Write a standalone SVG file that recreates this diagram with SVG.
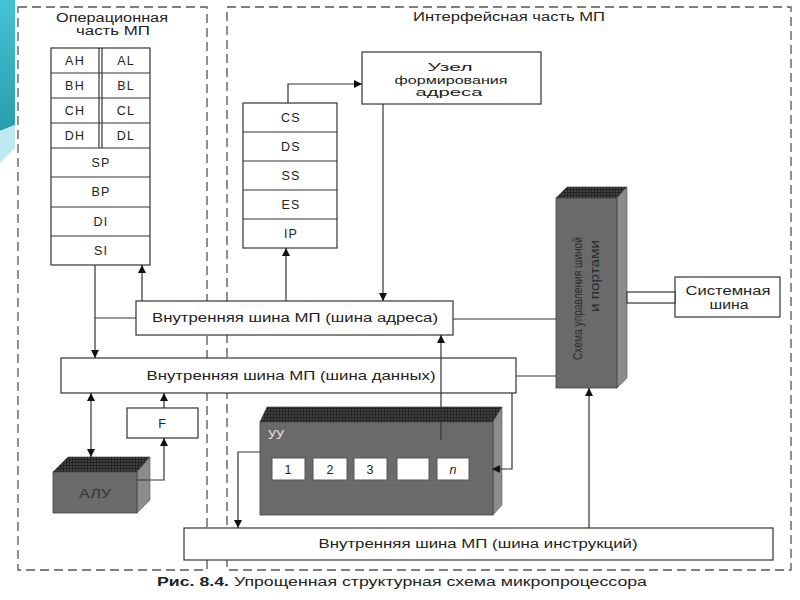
<svg xmlns="http://www.w3.org/2000/svg" width="800" height="600" viewBox="0 0 800 600">
<defs>
<linearGradient id="teal" x1="0" y1="0" x2="0" y2="1"><stop offset="0" stop-color="#45c3d2"/><stop offset="1" stop-color="#2a9cae"/></linearGradient>
<marker id="arr" viewBox="0 0 10 10" refX="10" refY="5" markerWidth="8" markerHeight="8" markerUnits="userSpaceOnUse" orient="auto-start-reverse"><path d="M0,0 L10,5 L0,10 z" fill="#111"/></marker>
<pattern id="hatch" width="3" height="3" patternUnits="userSpaceOnUse"><rect width="3" height="3" fill="#404040"/><path d="M0,0.5H3M0.5,0V3" stroke="#1e1e1e" stroke-width="0.8"/></pattern>
</defs>
<style>
.box{fill:#fff;stroke:#333;stroke-width:1.2}
.ln{fill:none;stroke:#333;stroke-width:1.2}
.arr{marker-end:url(#arr)}
.dash{fill:none;stroke:#555;stroke-width:1.3;stroke-dasharray:9 5}
.front{fill:#6a6a6a;stroke:#444;stroke-width:0.8}
.side{fill:#8c8c8c;stroke:#555;stroke-width:0.6}
.top{fill:url(#hatch);stroke:#333;stroke-width:0.6}
.slot{fill:#fff;stroke:#555;stroke-width:1}
text{font-family:"Liberation Sans",Arial,sans-serif;font-size:12.5px;fill:#222}
.c{text-anchor:middle}
.ls{letter-spacing:1.2px}
.sm{font-size:10.5px}
</style>
<rect width="800" height="600" fill="#fff"/>
<!-- decoration -->
<polygon points="0,0 15,0 15,125 0,131" fill="url(#teal)"/>
<polygon points="0,131 15,125 15,148 0,163" fill="#bfe9f0"/>
<!-- regions -->
<g id="operational-part">
<rect class="dash" x="18" y="7" width="189" height="563"/>
<text class="c" x="112" y="22" textLength="112" lengthAdjust="spacingAndGlyphs">Операционная</text>
<text class="c" x="113" y="35" textLength="74" lengthAdjust="spacingAndGlyphs">часть МП</text>
</g>
<g id="interface-part">
<rect class="dash" x="227" y="7" width="564" height="563"/>
<text class="c" x="509" y="21" textLength="192" lengthAdjust="spacingAndGlyphs">Интерфейсная часть МП</text>
</g>
<!-- general registers -->
<g id="general-registers">
<rect class="box" x="51" y="48" width="99" height="217"/>
<line class="ln" x1="99" y1="48" x2="99" y2="148"/>
<line class="ln" x1="102" y1="48" x2="102" y2="148"/>
<line class="ln" x1="51" y1="73" x2="150" y2="73"/>
<line class="ln" x1="51" y1="98" x2="150" y2="98"/>
<line class="ln" x1="51" y1="123" x2="150" y2="123"/>
<line class="ln" x1="51" y1="148" x2="150" y2="148"/>
<line class="ln" x1="51" y1="177" x2="150" y2="177"/>
<line class="ln" x1="51" y1="207" x2="150" y2="207"/>
<line class="ln" x1="51" y1="236" x2="150" y2="236"/>
<text class="c ls" x="75" y="65">AH</text><text class="c ls" x="126" y="65">AL</text>
<text class="c ls" x="75" y="90">BH</text><text class="c ls" x="126" y="90">BL</text>
<text class="c ls" x="75" y="115">CH</text><text class="c ls" x="126" y="115">CL</text>
<text class="c ls" x="75" y="140">DH</text><text class="c ls" x="126" y="140">DL</text>
<text class="c ls" x="101" y="167">SP</text>
<text class="c ls" x="101" y="196">BP</text>
<text class="c ls" x="101" y="226">DI</text>
<text class="c ls" x="101" y="255">SI</text>
</g>
<!-- segment registers -->
<g id="segment-registers">
<rect class="box" x="243" y="103" width="94" height="145"/>
<line class="ln" x1="243" y1="132" x2="337" y2="132"/>
<line class="ln" x1="243" y1="161" x2="337" y2="161"/>
<line class="ln" x1="243" y1="190" x2="337" y2="190"/>
<line class="ln" x1="243" y1="219" x2="337" y2="219"/>
<text class="c ls" x="291" y="122">CS</text>
<text class="c ls" x="291" y="151">DS</text>
<text class="c ls" x="291" y="180">SS</text>
<text class="c ls" x="291" y="209">ES</text>
<text class="c ls" x="291" y="238">IP</text>
</g>
<g id="address-unit">
<rect class="box" x="362" y="52" width="179" height="52"/>
<text class="c sm" x="450" y="71" textLength="45" lengthAdjust="spacingAndGlyphs">Узел</text>
<text class="c sm" x="451" y="83.5" textLength="113" lengthAdjust="spacingAndGlyphs">формирования</text>
<text class="c sm" x="449" y="96" textLength="67" lengthAdjust="spacingAndGlyphs">адреса</text>
</g>
<g id="address-bus">
<rect class="box" x="136" y="301" width="317" height="34"/>
<text class="c" x="295" y="322" textLength="286" lengthAdjust="spacingAndGlyphs">Внутренняя шина МП (шина адреса)</text>
</g>
<g id="data-bus">
<rect class="box" x="61" y="358" width="455" height="35"/>
<text class="c" x="291" y="380" textLength="289" lengthAdjust="spacingAndGlyphs">Внутренняя шина МП (шина данных)</text>
</g>
<g id="instruction-bus">
<rect class="box" x="184" y="528" width="589" height="32"/>
<text class="c" x="478" y="548" textLength="319" lengthAdjust="spacingAndGlyphs">Внутренняя шина МП (шина инструкций)</text>
</g>
<g id="flags">
<rect class="box" x="127" y="408" width="71" height="30"/>
<text class="c" x="162" y="428">F</text>
</g>
<g id="alu">
<polygon class="top" points="53,472 68,457 150,457 137,472"/>
<polygon class="side" points="137,472 150,457 150,500 137,513"/>
<rect class="front" x="53" y="472" width="84" height="41"/>
<text class="c" x="95" y="498" style="fill:#353535" textLength="32" lengthAdjust="spacingAndGlyphs">АЛУ</text>
</g>
<g id="control-unit">
<polygon class="top" points="260,422 267,407 502,407 493,422"/>
<polygon class="side" points="493,422 502,407 502,505 493,515"/>
<rect class="front" x="260" y="422" width="233" height="93"/>
<text x="268" y="439" style="fill:#eee" font-size="10">УУ</text>
<rect class="slot" x="272" y="458" width="33" height="22"/>
<rect class="slot" x="313" y="458" width="34" height="22"/>
<rect class="slot" x="354" y="458" width="33" height="22"/>
<rect class="slot" x="397" y="458" width="32" height="22"/>
<rect class="slot" x="437" y="458" width="32" height="22"/>
<text class="c" x="288" y="474">1</text>
<text class="c" x="330" y="474">2</text>
<text class="c" x="370" y="474">3</text>
<text class="c" x="453" y="474" font-style="italic">n</text>
</g>
<g id="bus-interface">
<polygon class="top" points="556,198 567,187 627,187 617,198"/>
<polygon class="side" points="617,198 627,187 627,378 617,388"/>
<rect class="front" x="556" y="198" width="61" height="190"/>
<text x="582" y="360" transform="rotate(-90 582 360)" font-size="11.5" textLength="123" lengthAdjust="spacingAndGlyphs" style="fill:#2a2a2a">Схема управления шиной</text>
<text x="599" y="312" transform="rotate(-90 599 312)" font-size="11.5" textLength="72" lengthAdjust="spacingAndGlyphs" style="fill:#2a2a2a">и портами</text>
</g>
<g id="system-bus">
<rect class="box" x="675" y="277" width="105" height="40"/>
<text class="c" x="728" y="295" textLength="85" lengthAdjust="spacingAndGlyphs">Системная</text>
<text class="c" x="729" y="309" textLength="39" lengthAdjust="spacingAndGlyphs">шина</text>
</g>
<!-- connectors -->
<g id="connectors">
<path class="ln arr" d="M288,103 V84 H362"/>
<path class="ln arr" d="M383,104 V301"/>
<path class="ln arr" d="M286,301 V248"/>
<path class="ln arr" d="M95,265 V358"/>
<path class="ln" d="M136,318 H95"/>
<path class="ln arr" d="M142,301 V265"/>
<path class="ln" d="M453,319 H556"/>
<path class="ln" d="M516,376 H556"/>
<path class="ln arr" d="M91,393 V457" style="marker-start:url(#arr)"/>
<path class="ln arr" d="M164,408 V393"/>
<path class="ln arr" d="M137,480 H164 V438"/>
<path class="ln arr" d="M441,440 V335"/>
<path class="ln arr" d="M512,393 V469 H492"/>
<path class="ln arr" d="M260,452 H238 V528"/>
<path class="ln arr" d="M589,528 V388"/>
<rect class="box" x="627" y="292" width="48" height="11"/>
</g>
<text x="157" y="586" font-size="13.5" textLength="490" lengthAdjust="spacingAndGlyphs"><tspan font-weight="bold">Рис. 8.4.</tspan> Упрощенная структурная схема микропроцессора</text>
</svg>
